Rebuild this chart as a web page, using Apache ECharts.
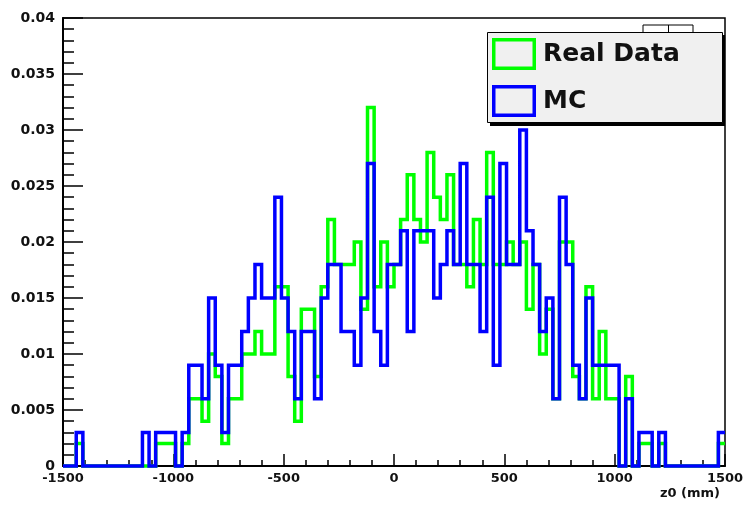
<!DOCTYPE html>
<html>
<head>
<meta charset="utf-8">
<script src="https://cdn.jsdelivr.net/npm/echarts@6/dist/echarts.min.js"></script>
<style>
  html, body { margin: 0; padding: 0; background: #ffffff; }
  #chart { width: 754px; height: 513px; }
</style>
</head>
<body>
<div id="chart"></div>
<script>
// z0 distribution: 100 bins of 30 mm between -1500 and 1500 mm
const binStart = -1500;
const binWidth = 30;

const xTickValues = [-1500, -1000, -500, 0, 500, 1000, 1500];
const yTickValues = [0, 0.005, 0.01, 0.015, 0.02, 0.025, 0.03, 0.035, 0.04];

const seriesNames = ['Real Data', 'MC'];

// normalised bin contents, one value per bin
const realData = [
  0, 0, 0.002, 0, 0, 0, 0, 0, 0, 0,
  0, 0, 0, 0, 0.002, 0.002, 0.002, 0, 0.002, 0.006,
  0.006, 0.004, 0.010, 0.008, 0.002, 0.006, 0.006, 0.010, 0.010, 0.012,
  0.010, 0.010, 0.016, 0.016, 0.008, 0.004, 0.014, 0.014, 0.008, 0.016,
  0.022, 0.018, 0.018, 0.018, 0.020, 0.014, 0.032, 0.016, 0.020, 0.016,
  0.018, 0.022, 0.026, 0.022, 0.020, 0.028, 0.024, 0.022, 0.026, 0.018,
  0.018, 0.016, 0.022, 0.018, 0.028, 0.018, 0.018, 0.020, 0.018, 0.020,
  0.014, 0.018, 0.010, 0.014, 0.006, 0.020, 0.020, 0.008, 0.006, 0.016,
  0.006, 0.012, 0.006, 0.006, 0, 0.008, 0, 0.002, 0.002, 0,
  0.002, 0, 0, 0, 0, 0, 0, 0, 0, 0.002
];

const mcData = [
  0, 0, 0.003, 0, 0, 0, 0, 0, 0, 0,
  0, 0, 0.003, 0, 0.003, 0.003, 0.003, 0, 0.003, 0.009,
  0.009, 0.006, 0.015, 0.009, 0.003, 0.009, 0.009, 0.012, 0.015, 0.018,
  0.015, 0.015, 0.024, 0.015, 0.012, 0.006, 0.012, 0.012, 0.006, 0.015,
  0.018, 0.018, 0.012, 0.012, 0.009, 0.015, 0.027, 0.012, 0.009, 0.018,
  0.018, 0.021, 0.012, 0.021, 0.021, 0.021, 0.015, 0.018, 0.021, 0.018,
  0.027, 0.018, 0.018, 0.012, 0.024, 0.009, 0.027, 0.018, 0.018, 0.030,
  0.021, 0.018, 0.012, 0.015, 0.006, 0.024, 0.018, 0.009, 0.006, 0.015,
  0.009, 0.009, 0.009, 0.009, 0, 0.006, 0, 0.003, 0.003, 0,
  0.003, 0, 0, 0, 0, 0, 0, 0, 0, 0.003
];

const seriesColors = ['#00ff00', '#0000ff'];

// outline of a histogram: each bin starts at its lower edge, last bin closed at the upper edge
function histPoints(values) {
  const pts = values.map((v, i) => [binStart + i * binWidth, v]);
  pts.push([binStart + values.length * binWidth, values[values.length - 1]]);
  return pts;
}

const font = 'DejaVu Sans';
const hollowBox = 'path://M0,0H44V32H0Z M3.5,3.5V28.5H40.5V3.5Z';

const chart = echarts.init(document.getElementById('chart'), null, { renderer: 'canvas' });

chart.setOption({
  animation: false,
  backgroundColor: '#ffffff',
  grid: {
    left: 63, right: 29, top: 18, bottom: 47,
    show: true, borderColor: '#000', borderWidth: 1.5, backgroundColor: 'transparent'
  },
  xAxis: {
    type: 'value',
    min: xTickValues[0],
    max: xTickValues[xTickValues.length - 1],
    interval: xTickValues[1] - xTickValues[0],
    axisLine: { show: true, onZero: false, lineStyle: { color: '#000', width: 2 } },
    axisTick: { show: true, inside: true, length: 12, lineStyle: { color: '#000', width: 1.5 } },
    minorTick: { show: true, splitNumber: 5, length: 6, lineStyle: { color: '#000', width: 1.5 } },
    splitLine: { show: false },
    axisLabel: {
      margin: 6, fontSize: 13, fontFamily: font, fontWeight: 'bold', color: '#111',
      showMinLabel: true, showMaxLabel: true,
      formatter: v => String(v)
    }
  },
  yAxis: {
    type: 'value',
    min: yTickValues[0],
    max: yTickValues[yTickValues.length - 1],
    interval: yTickValues[1] - yTickValues[0],
    axisLine: { show: true, onZero: false, lineStyle: { color: '#000', width: 2 } },
    axisTick: { show: true, inside: true, length: 20, lineStyle: { color: '#000', width: 1.5 } },
    minorTick: { show: true, splitNumber: 5, length: 11, lineStyle: { color: '#000', width: 1.5 } },
    splitLine: { show: false },
    axisLabel: {
      margin: 8, fontSize: 14, fontFamily: font, fontWeight: 'bold', color: '#111',
      showMinLabel: true, showMaxLabel: true,
      formatter: v => String(+v.toFixed(3))
    }
  },
  legend: {
    orient: 'vertical',
    left: 492, top: 38,
    padding: 0,
    itemWidth: 44, itemHeight: 32, itemGap: 15,
    icon: hollowBox,
    selectedMode: false,
    z: 10,
    textStyle: { fontFamily: font, fontWeight: 'bold', fontSize: 25, color: '#111', padding: [0, 0, 0, 2] },
    data: seriesNames.map((n, i) => ({ name: n, itemStyle: { color: seriesColors[i], borderWidth: 0 } }))
  },
  graphic: [
    // top edge of the statistics box peeking out above the legend
    { type: 'rect', z: 3, shape: { x: 643, y: 25, width: 50, height: 12 },
      style: { fill: '#fff', stroke: '#000', lineWidth: 1 } },
    { type: 'line', z: 3, shape: { x1: 668.5, y1: 25, x2: 668.5, y2: 36 },
      style: { stroke: '#000', lineWidth: 1 } },
    // legend frame with its drop shadow
    { type: 'rect', z: 4, shape: { x: 490, y: 35, width: 235, height: 91 },
      style: { fill: '#000' } },
    { type: 'rect', z: 4, shape: { x: 487.5, y: 32.5, width: 235, height: 90 },
      style: { fill: '#f0f0f0', stroke: '#000', lineWidth: 1 } },
    // x axis title
    { type: 'text', z: 4, x: 720, y: 494,
      style: { text: 'z0 (mm)', fill: '#111', font: 'bold 13px "DejaVu Sans"',
               textAlign: 'right', textVerticalAlign: 'middle' } }
  ],
  series: [realData, mcData].map((vals, i) => ({
    name: seriesNames[i],
    type: 'line',
    step: 'end',
    data: histPoints(vals),
    symbol: 'none',
    showSymbol: false,
    clip: false,
    itemStyle: { color: seriesColors[i] },
    lineStyle: { color: seriesColors[i], width: 3.5, cap: 'butt', join: 'miter' },
    z: 2 + i * 0.1
  }))
});
</script>
</body>
</html>
